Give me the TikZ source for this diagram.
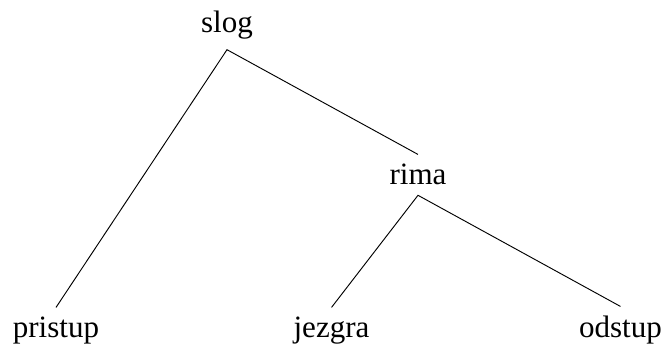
\documentclass[tikz,border=0pt]{standalone}
\usepackage{fontspec}
\setmainfont{Liberation Serif}
\begin{document}
\begin{tikzpicture}[x=0.03cm, y=-0.03cm,
	word/.style={anchor=base, inner sep=0pt, outer xsep=0pt, outer ysep=0.3cm, font=\fontsize{26.5}{32}\selectfont},
	branch/.style={line width=0.8pt}]
	%%%%% START %%%%%
	
	\useasboundingbox (0, 0) rectangle (665, 347);
	
	\node[word] (slog) at (227, 33) {slog};
	\node[word] (rima) at (418, 185) {rima};
	
	\node[word] (pristup) at (56, 338) {pristup};
	\node[word] (jezgra) at (331.5, 338) {jezgra};
	\node[word] (odstup) at (620.5, 338) {odstup};
	
	\draw[branch] (pristup.north) -- (slog.south) -- (rima.north);
	\draw[branch] (jezgra.north) -- (rima.south) -- (odstup.north);
	
	%%%%% END %%%%%
\end{tikzpicture}
\end{document}
